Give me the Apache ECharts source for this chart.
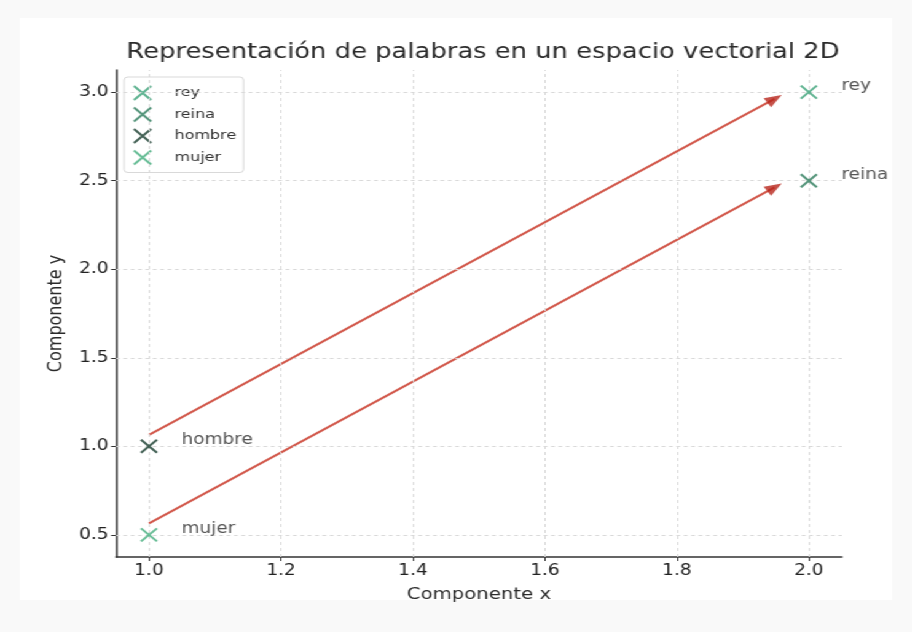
<!DOCTYPE html>
<html>
<head>
<meta charset="utf-8">
<script src="https://cdn.jsdelivr.net/npm/echarts@6/dist/echarts.min.js"></script>
<style>
html,body{margin:0;padding:0;background:#f9f9f9;overflow:hidden;}
#chart{width:742px;height:632px;transform:scale(1.229,1);transform-origin:0 0;}
</style>
</head>
<body>
<div id="chart"></div>
<script>
// ---- data ----
var words = ['rey', 'reina', 'hombre', 'mujer'];
var wordX = [2.0, 2.0, 1.0, 1.0];
var wordY = [3.0, 2.5, 1.0, 0.5];
var wordColors = ['#37a075', '#2a7a5a', '#143a2b', '#42ad7c'];
// arrows: start and end points
var arrowStarts = [[1.0, 1.065], [1.0, 0.565]];
var arrowEnds = [[1.948, 2.962], [1.948, 2.462]];
var xTicks = [1.0, 1.2, 1.4, 1.6, 1.8, 2.0];
var yTicks = [0.5, 1.0, 1.5, 2.0, 2.5, 3.0];

var FONT = 'DejaVu Sans';
var xMark = 'path://M0,0L10,10M10,0L0,10';

var chart = echarts.init(document.getElementById('chart'), null, {renderer: 'canvas', width: 742, height: 632});

function buildOption(rotations) {
  var series = [];
  words.forEach(function (w, i) {
    series.push({
      name: w,
      type: 'scatter',
      data: [[wordX[i], wordY[i]]],
      symbol: xMark,
      symbolSize: 13,
      itemStyle: {color: 'rgba(0,0,0,0)', borderColor: wordColors[i], borderWidth: 2},
      label: {
        show: true, position: 'right', distance: 19, offset: [0, -6],
        formatter: w, fontFamily: FONT, fontSize: 15, color: '#2b2b2b'
      },
      z: 5
    });
  });
  series.push({
    name: 'shaft',
    type: 'lines',
    coordinateSystem: 'cartesian2d',
    polyline: false,
    symbol: ['none', 'none'],
    lineStyle: {color: '#d2584b', width: 2, opacity: 1},
    data: arrowStarts.map(function (s, i) { return {coords: [s, arrowEnds[i]]}; }),
    silent: true,
    z: 3
  });
  series.push({
    name: 'heads',
    type: 'scatter',
    symbol: 'triangle',
    symbolSize: [11, 14],
    itemStyle: {color: '#b8261c'},
    data: arrowEnds.map(function (e, i) {
      return {value: e, symbolRotate: rotations ? rotations[i] : 0};
    }),
    silent: true,
    z: 4
  });
  var splitX = xTicks.map(function (v) { return {xAxis: v}; });
  var splitY = yTicks.map(function (v) { return {yAxis: v}; });
  series.push({
    name: 'grid',
    type: 'scatter',
    data: [],
    silent: true,
    markLine: {
      silent: true, symbol: ['none', 'none'], label: {show: false},
      lineStyle: {color: '#d9d9d9', type: [3, 3], width: 1},
      data: splitX.concat(splitY),
      animation: false
    },
    z: 1
  });
  return {
    animation: false,
    backgroundColor: '#f9f9f9',
    graphic: [{
      type: 'rect', shape: {x: 16, y: 18, width: 710, height: 582},
      style: {fill: '#ffffff'}, z: -10, silent: true
    }],
    title: {
      text: 'Representación de palabras en un espacio vectorial 2D',
      left: 388, top: 37, textAlign: 'center',
      textStyle: {fontFamily: FONT, fontSize: 21, fontWeight: 'normal', color: '#2b2b2b'}
    },
    legend: {
      data: words,
      left: 101, top: 77,
      orient: 'vertical',
      itemGap: 5.5,
      itemWidth: 26, itemHeight: 14,
      padding: [8, 6, 7, 7],
      borderColor: '#d9d9d9', borderWidth: 1, borderRadius: 3,
      backgroundColor: '#fff',
      textStyle: {fontFamily: FONT, fontSize: 13, color: '#333', padding: [0, 0, 0, 8]},
      selectedMode: false
    },
    grid: {left: 94.4, right: 57, top: 70, bottom: 75},
    xAxis: {
      type: 'value', min: 0.95, max: 2.05,
      name: 'Componente x', nameLocation: 'middle', nameGap: 30,
      nameTextStyle: {fontFamily: FONT, fontSize: 16, color: '#2b2b2b'},
      axisLine: {show: true, lineStyle: {color: '#333', width: 1.5}},
      axisTick: {show: true, customValues: xTicks, length: 4, inside: false, lineStyle: {color: '#333'}},
      axisLabel: {customValues: xTicks, fontFamily: FONT, fontSize: 15, color: '#222', margin: 7,
        formatter: function (v) { return v.toFixed(1); }},
      splitLine: {show: false}
    },
    yAxis: {
      type: 'value', min: 0.375, max: 3.125,
      name: 'Componente y', nameLocation: 'middle', nameGap: 29, nameRotate: 90,
      nameTextStyle: {fontFamily: FONT, fontSize: 16, color: '#2b2b2b'},
      axisLine: {show: true, lineStyle: {color: '#333', width: 1.5}},
      axisTick: {show: true, customValues: yTicks, length: 4, inside: false, lineStyle: {color: '#333'}},
      axisLabel: {customValues: yTicks, fontFamily: FONT, fontSize: 15, color: '#222', margin: 6,
        formatter: function (v) { return v.toFixed(1); }},
      splitLine: {show: false}
    },
    series: series
  };
}

chart.setOption(buildOption(null));
// on-screen arrow direction for the heads (the CSS stretch applies equally to line and head)
var rots = arrowStarts.map(function (s, i) {
  var p0 = chart.convertToPixel({gridIndex: 0}, s);
  var p1 = chart.convertToPixel({gridIndex: 0}, arrowEnds[i]);
  var ang = Math.atan2(-(p1[1] - p0[1]), (p1[0] - p0[0])) * 180 / Math.PI;
  return ang - 90;
});
chart.setOption(buildOption(rots));
</script>
</body>
</html>
